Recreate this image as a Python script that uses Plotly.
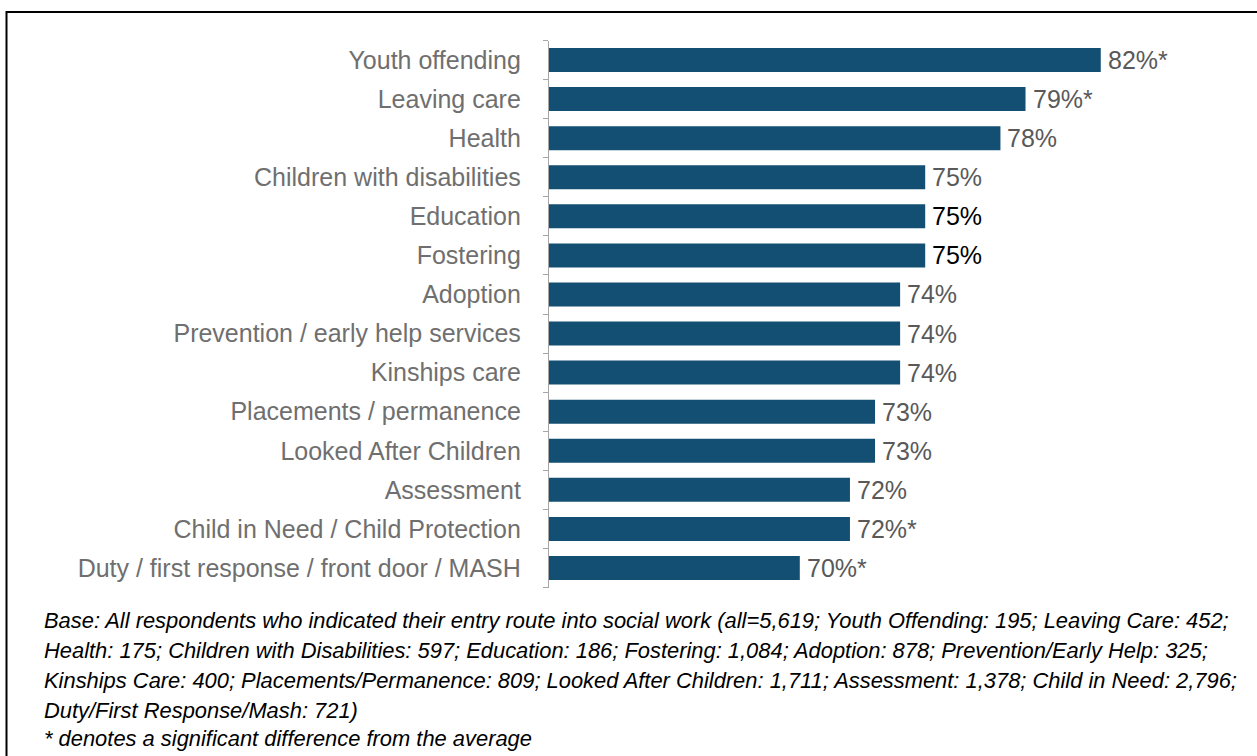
import plotly.graph_objects as go

categories = [
    "Youth offending",
    "Leaving care",
    "Health",
    "Children with disabilities",
    "Education",
    "Fostering",
    "Adoption",
    "Prevention / early help services",
    "Kinships care",
    "Placements / permanence",
    "Looked After Children",
    "Assessment",
    "Child in Need / Child Protection",
    "Duty / first response / front door / MASH",
]
values = [82, 79, 78, 75, 75, 75, 74, 74, 74, 73, 73, 72, 72, 70]
value_labels = ["82%*", "79%*", "78%", "75%", "75%", "75%", "74%", "74%", "74%",
                "73%", "73%", "72%", "72%*", "70%*"]
label_colors = ["#595959", "#595959", "#595959", "#595959", "#000000", "#000000",
                "#595959", "#595959", "#595959", "#595959", "#595959", "#595959",
                "#595959", "#595959"]
footnote_lines = [
    "Base: All respondents who indicated their entry route into social work (all=5,619; Youth Offending: 195; Leaving Care: 452;",
    "Health: 175; Children with Disabilities: 597; Education: 186; Fostering: 1,084; Adoption: 878; Prevention/Early Help: 325;",
    "Kinships Care: 400; Placements/Permanence: 809; Looked After Children: 1,711; Assessment: 1,378; Child in Need: 2,796;",
    "Duty/First Response/Mash: 721)",
    "* denotes a significant difference from the average",
]

W, H = 1257, 756
px_per_pct = 25.08
x_left_px, x_right_px = 549, 1250
x_min = 60
x_max = x_min + (x_right_px - x_left_px) / px_per_pct

fig = go.Figure()
fig.add_trace(go.Bar(
    x=values,
    y=categories,
    orientation="h",
    marker=dict(color="#124F73", line=dict(width=0)),
    hoverinfo="skip",
))

for c, v, t, col in zip(categories, values, value_labels, label_colors):
    fig.add_annotation(
        x=v, y=c, xref="x", yref="y", text=t, showarrow=False,
        xanchor="left", yanchor="middle", xshift=5,
        font=dict(family="Liberation Sans, Arial", size=25, color=col),
    )

line_y = [620, 650, 680, 710, 738]
for txt, yp in zip(footnote_lines, line_y):
    fig.add_annotation(
        x=42 / W, y=1 - yp / H, xref="paper", yref="paper", text=txt,
        showarrow=False, xanchor="left", yanchor="middle",
        font=dict(family="Liberation Sans, Arial", size=21.9, color="#000000",
                  style="italic"),
    )

# outer frame
fig.add_shape(type="rect", xref="paper", yref="paper",
              x0=6.5 / W, x1=1.01, y0=-0.01, y1=1 - 12 / H,
              line=dict(color="#000000", width=2), fillcolor="rgba(0,0,0,0)")

fig.update_layout(
    width=W, height=H,
    margin=dict(l=0, r=0, t=0, b=0),
    paper_bgcolor="white", plot_bgcolor="white",
    bargap=0.385,
    showlegend=False,
    xaxis=dict(
        range=[x_min, x_max], domain=[x_left_px / W, x_right_px / W],
        visible=False, fixedrange=True,
    ),
    yaxis=dict(
        domain=[1 - 587.5 / H, 1 - 40.5 / H],
        categoryorder="array", categoryarray=categories[::-1],
        autorange=False, range=[-0.5, len(categories) - 0.5],
        showline=True, linecolor="#A6A6A6", linewidth=1.3,
        ticks="outside", tickson="boundaries", ticklen=5, tickcolor="#A6A6A6",
        tickwidth=1.3,
        tickfont=dict(family="Liberation Sans, Arial", size=25, color="#6F6F6F"),
        ticklabelstandoff=22,
        showgrid=False, zeroline=False,
    ),
    font=dict(family="Liberation Sans, Arial"),
)

fig.write_html("out.html", config={"displayModeBar": False},
               post_script="document.body.style.margin='0';document.body.style.padding='0';")
